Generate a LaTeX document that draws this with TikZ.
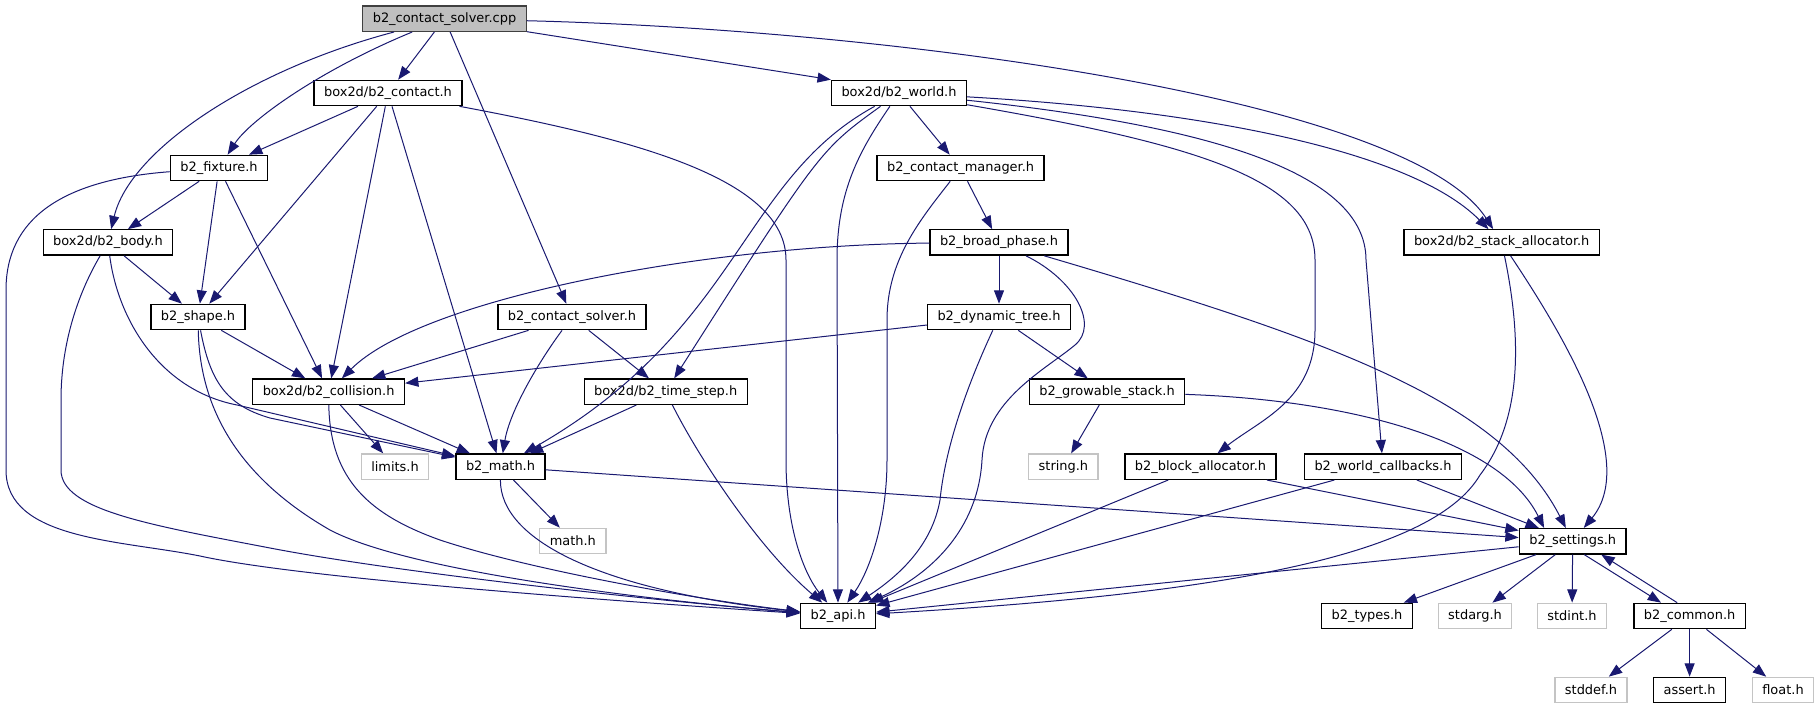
\documentclass[tikz,border=0pt]{standalone}
\usepackage{fontspec}
\setmainfont{DejaVu Sans}
\usetikzlibrary{arrows.meta}
\definecolor{edgeblue}{HTML}{191970}
\definecolor{rootfill}{HTML}{BFBFBF}
\definecolor{rootline}{HTML}{404040}
\definecolor{sysline}{HTML}{C4C4C4}
\begin{document}
\begin{tikzpicture}[x=0.75pt, y=-0.75pt,
  hdr/.style={rectangle, draw=black, line width=1pt, fill=white, inner xsep=7.5pt, inner ysep=0pt, minimum height=19pt, font=\fontsize{9.7}{11}\selectfont},
  sys/.style={hdr, draw=sysline},
  root/.style={hdr, draw=rootline, fill=rootfill},
  inc/.style={edgeblue, line width=0.75pt, -{Triangle[length=10pt, width=7.5pt]}}]
\useasboundingbox (0,0) rectangle (1820,709);
\node[root] (cpp) at (444.5,18.7) {b2\_contact\_solver.cpp};
\node[hdr] (contact) at (388,93) {box2d/b2\_contact.h};
\node[hdr] (world) at (899,93) {box2d/b2\_world.h};
\node[hdr] (fixture) at (219,168) {b2\_fixture.h};
\node[hdr] (manager) at (960.6,168) {b2\_contact\_manager.h};
\node[hdr] (body) at (108,242.5) {box2d/b2\_body.h};
\node[hdr] (broad) at (999,242.5) {b2\_broad\_phase.h};
\node[hdr] (stack) at (1501.7,242.5) {box2d/b2\_stack\_allocator.h};
\node[hdr] (shape) at (198,317) {b2\_shape.h};
\node[hdr] (solver) at (572,317) {b2\_contact\_solver.h};
\node[hdr] (tree) at (999,317) {b2\_dynamic\_tree.h};
\node[hdr] (collision) at (328.6,391.7) {box2d/b2\_collision.h};
\node[hdr] (timestep) at (665.7,391.7) {box2d/b2\_time\_step.h};
\node[hdr] (growable) at (1107,391.7) {b2\_growable\_stack.h};
\node[sys] (limits) at (395,466.7) {limits.h};
\node[hdr] (bmath) at (500.5,466.7) {b2\_math.h};
\node[sys] (string) at (1063.4,466.7) {string.h};
\node[hdr] (block) at (1200.5,466.7) {b2\_block\_allocator.h};
\node[hdr] (callbacks) at (1383,466.7) {b2\_world\_callbacks.h};
\node[sys] (cmath) at (572.8,541) {math.h};
\node[hdr] (settings) at (1572.7,541.3) {b2\_settings.h};
\node[hdr] (api) at (838,616) {b2\_api.h};
\node[hdr] (types) at (1367,616) {b2\_types.h};
\node[sys] (stdarg) at (1475,616) {stdarg.h};
\node[sys] (stdint) at (1572,616) {stdint.h};
\node[hdr] (common) at (1689.6,616) {b2\_common.h};
\node[sys] (stddef) at (1591,690) {stddef.h};
\node[hdr] (assert) at (1689.6,690) {assert.h};
\node[sys] (float) at (1783,690) {float.h};
\draw[inc] (cpp) -- (contact);
\draw[inc] (cpp) -- (world.north west);
\draw[inc] (cpp) .. controls (900,30) and (1410,100) .. (stack);
\draw[inc] (cpp) .. controls (320,70) and (250,120) .. (fixture);
\draw[inc] (cpp) .. controls (250,70) and (130,150) .. (body);
\draw[inc] (cpp) -- (solver);
\draw[inc] (contact) -- (fixture);
\draw[inc] (contact) -- (shape);
\draw[inc] (contact) -- (collision);
\draw[inc] (contact) -- (bmath);
\draw[inc] (contact) .. controls (640,140) and (786,180) .. (786,260) -- (786,460) .. controls (786,530) and (805,575) .. (api);
\draw[inc] (world) -- (manager);
\draw[inc] (world) .. controls (860,150) and (837,190) .. (837,260) -- (api);
\draw[inc] (world) .. controls (740,180) and (740,330) .. (bmath);
\draw[inc] (world) .. controls (820,150) .. (timestep);
\draw[inc] (world) .. controls (1200,110) and (1410,150) .. (stack);
\draw[inc] (world) .. controls (1200,125) and (1366,170) .. (1366,260) -- (callbacks);
\draw[inc] (world) .. controls (1200,145) and (1315,180) .. (1315,260) -- (1315,330) .. controls (1315,400) and (1260,420) .. (block);
\draw[inc] (fixture) -- (body);
\draw[inc] (fixture) -- (shape);
\draw[inc] (fixture) -- (collision);
\draw[inc] (fixture) .. controls (60,180) and (6,220) .. (6,290) -- (6,470) .. controls (6,540) and (120,540) .. (200,556) .. controls (300,578) and (600,600) .. (api);
\draw[inc] (body) -- (shape);
\draw[inc] (body) .. controls (118,320) and (160,390) .. (237,405) -- (bmath);
\draw[inc] (body) .. controls (80,290) and (61,340) .. (61,400) -- (61,470) .. controls (61,510) and (150,525) .. (270,548) .. controls (400,573) and (650,600) .. (api);
\draw[inc] (shape) -- (collision);
\draw[inc] (shape) .. controls (210,380) and (225,405) .. (270,418) -- (bmath);
\draw[inc] (shape) .. controls (200,420) and (250,484) .. (330,530) .. controls (410,572) and (650,600) .. (api);
\draw[inc] (solver) -- (collision);
\draw[inc] (solver) .. controls (540,360) and (510,410) .. (bmath);
\draw[inc] (solver) -- (timestep);
\draw[inc] (manager) -- (broad);
\draw[inc] (manager) .. controls (920,220) and (887,260) .. (887,320) -- (887,460) .. controls (887,520) and (870,570) .. (api);
\draw[inc] (broad) .. controls (700,245) and (420,300) .. (collision);
\draw[inc] (broad) -- (tree);
\draw[inc] (broad) .. controls (1075,280) and (1099,325) .. (1075,345) .. controls (1045,370) and (985,400) .. (982,460) .. controls (978,530) and (930,575) .. (api);
\draw[inc] (broad) .. controls (1330,340) and (1500,400) .. (settings);
\draw[inc] (tree) -- (collision);
\draw[inc] (tree) -- (growable);
\draw[inc] (tree) .. controls (965,390) and (945,450) .. (940,500) .. controls (932,545) and (900,575) .. (api);
\draw[inc] (stack) .. controls (1522,340) and (1522,420) .. (1480,475) .. controls (1430,560) and (1200,595) .. (api);
\draw[inc] (stack) .. controls (1560,330) and (1640,460) .. (settings);
\draw[inc] (collision) -- (limits);
\draw[inc] (collision) -- (bmath);
\draw[inc] (collision) .. controls (330,480) and (370,515) .. (440,540) .. controls (530,570) and (700,600) .. (api);
\draw[inc] (timestep) -- (bmath);
\draw[inc] (timestep) .. controls (700,460) and (760,550) .. (api);
\draw[inc] (growable) -- (string);
\draw[inc] (growable) .. controls (1350,400) and (1500,440) .. (settings.155);
\draw[inc] (bmath) -- (cmath);
\draw[inc] (bmath) .. controls (500,540) and (600,590) .. (api);
\draw[inc] (bmath) -- (settings);
\draw[inc] (block) -- (api);
\draw[inc] (block) -- (settings);
\draw[inc] (callbacks) -- (api);
\draw[inc] (callbacks) -- (settings);
\draw[inc] (settings) -- (api);
\draw[inc] (settings) -- (types);
\draw[inc] (settings) -- (stdarg);
\draw[inc] (settings) -- (stdint);
\draw[inc] (settings.-49) -- (common.155);
\draw[inc] (common.133) -- (settings.-25);
\draw[inc] (common) -- (stddef);
\draw[inc] (common) -- (assert);
\draw[inc] (common) -- (float);
\end{tikzpicture}
\end{document}
